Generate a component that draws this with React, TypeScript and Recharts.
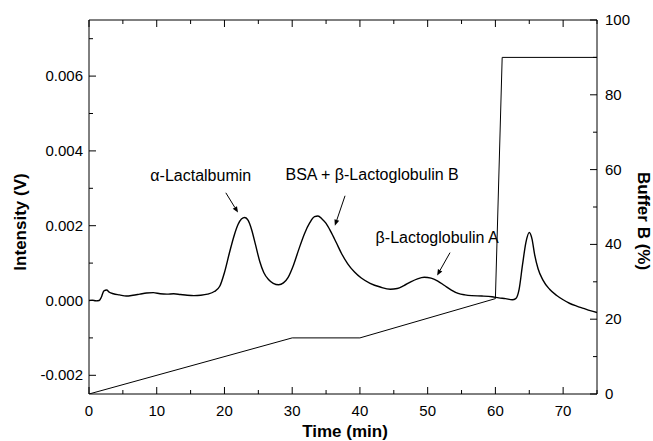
import React from 'react';
import { ComposedChart, Line, XAxis, YAxis, ReferenceDot, ReferenceLine, Label } from 'recharts';

const FONT = '"Liberation Sans", Arial, Helvetica, sans-serif';

// Chromatogram trace (time in min, intensity in V)
const traceTime = [
  0, 0.5, 1.0, 1.5, 1.8, 2.2, 2.6, 3.0, 3.6, 4.5, 5.5, 6.5, 7.5, 8.5, 9.5, 10.5, 11.5, 12.5, 13.5, 14.5,
  15.5, 16.5, 17.5, 18.5, 19.3, 20.0, 20.7, 21.4, 22.0, 22.5, 23.0, 23.5, 24.0, 24.6, 25.2, 25.8, 26.5,
  27.2, 28.0, 28.7, 29.4, 30.2, 31.0, 31.8, 32.6, 33.3, 33.8, 34.4, 35.0, 35.7, 36.5, 37.3, 38.2, 39.2,
  40.2, 41.5, 43.0, 44.5, 45.5, 46.5, 47.5, 48.5, 49.5, 50.5, 51.5, 52.5, 53.5, 54.5, 55.5, 56.5, 58.0,
  59.5, 60.5, 61.5, 62.5, 63.0, 63.5, 64.0, 64.5, 65.0, 65.4, 65.8, 66.3, 67.0, 68.0, 69.0, 70.0, 71.0,
  72.0, 73.0, 74.0, 75.0,
];
const traceIntensity = [
  0.0, 0.00001, -0.00001, 0.0, 0.00008, 0.00026, 0.00028, 0.00022, 0.00018, 0.00015, 0.00012, 0.00014,
  0.00017, 0.0002, 0.00021, 0.00018, 0.00017, 0.00018, 0.00016, 0.00014, 0.00013, 0.00014, 0.00017,
  0.00024, 0.00038, 0.00075, 0.00125, 0.00172, 0.00203, 0.00218, 0.00222, 0.00214, 0.0019, 0.00148,
  0.00105, 0.00075, 0.00056, 0.00046, 0.00042, 0.00047, 0.00062, 0.00095, 0.00138, 0.00178, 0.00208,
  0.00224, 0.00226, 0.00218, 0.00206, 0.00184, 0.00155, 0.00125, 0.00098, 0.00076, 0.0006, 0.00046,
  0.00036, 0.0003, 0.00032, 0.0004, 0.0005, 0.00058, 0.00062, 0.0006, 0.00052, 0.0004, 0.00028, 0.00019,
  0.00015, 0.00013, 0.00012, 0.0001, 0.00007, 0.00005, 0.00002, 0.00005, 0.0003, 0.00095, 0.00155,
  0.00182, 0.00165, 0.00122, 0.00085, 0.00055, 0.0003, 0.00014, 0.00002, -0.00008, -0.00015, -0.00021,
  -0.00027, -0.00032,
];

// Gradient program (time in min, Buffer B in %)
const gradientTime = [0, 30, 40, 60, 61, 75];
const gradientBuffer = [0, 15, 15, 25.5, 90, 90];

// Axis ticks
const timeTicks = [0, 5, 10, 15, 20, 25, 30, 35, 40, 45, 50, 55, 60, 65, 70, 75];
const timeLabels = [0, 10, 20, 30, 40, 50, 60, 70];
const intensityTicks = [-0.002, -0.001, 0, 0.001, 0.002, 0.003, 0.004, 0.005, 0.006, 0.007];
const intensityLabels = [-0.002, 0, 0.002, 0.004, 0.006];
const bufferTicks = [0, 10, 20, 30, 40, 50, 60, 70, 80, 90, 100];
const bufferLabels = [0, 20, 40, 60, 80, 100];

// Annotations
const annotationText = ['α-Lactalbumin', 'BSA + β-Lactoglobulin B', 'β-Lactoglobulin A'];
const annotationTextTime = [16.5, 41.8, 51.4];
const annotationTextValue = [0.00333, 0.00336, 0.00168];
const arrowFromTime = [20.2, 37.8, 53.3];
const arrowFromValue = [0.00288, 0.0028, 0.00128];
const arrowToTime = [22.0, 36.3, 51.4];
const arrowToValue = [0.00235, 0.002, 0.00067];

const trace = traceTime.map((t, i) => ({ t, v: traceIntensity[i] }));
const gradient = gradientTime.map((t, i) => ({ t, b: gradientBuffer[i] }));

const isMajor = (v: number, labels: number[]) => labels.some((l) => Math.abs(l - v) < 1e-9);

const LeftTick = (props: any) => {
  const { x, y, payload } = props;
  const major = isMajor(payload.value, intensityLabels);
  return (
    <g>
      <line x1={x} y1={y} x2={x + (major ? 7 : 4)} y2={y} stroke="#000" strokeWidth={1} />
      {major && (
        <text x={x - 6} y={y} dy={5} textAnchor="end" fontSize={15} fontFamily={FONT} fill="#000">
          {payload.value.toFixed(3)}
        </text>
      )}
    </g>
  );
};

const RightTick = (props: any) => {
  const { x, y, payload } = props;
  const major = isMajor(payload.value, bufferLabels);
  return (
    <g>
      <line x1={x} y1={y} x2={x - (major ? 7 : 4)} y2={y} stroke="#000" strokeWidth={1} />
      {major && (
        <text x={x + 8} y={y} dy={5} textAnchor="start" fontSize={15} fontFamily={FONT} fill="#000">
          {String(payload.value)}
        </text>
      )}
    </g>
  );
};

const BottomTick = (props: any) => {
  const { x, y, payload } = props;
  const major = isMajor(payload.value, timeLabels);
  return (
    <g>
      <line x1={x} y1={y} x2={x} y2={y - (major ? 7 : 4)} stroke="#000" strokeWidth={1} />
      {major && (
        <text x={x} y={y + 22} textAnchor="middle" fontSize={15} fontFamily={FONT} fill="#000">
          {String(payload.value)}
        </text>
      )}
    </g>
  );
};

const TopTick = (props: any) => {
  const { x, y, payload } = props;
  const major = isMajor(payload.value, timeLabels);
  return <line x1={x} y1={y} x2={x} y2={y + (major ? 7 : 4)} stroke="#000" strokeWidth={1} />;
};

const Arrow = (props: any) => {
  const { x1, y1, x2, y2 } = props;
  if ([x1, y1, x2, y2].some((v) => typeof v !== 'number' || isNaN(v))) return null;
  const dx = x2 - x1;
  const dy = y2 - y1;
  const len = Math.sqrt(dx * dx + dy * dy) || 1;
  const ux = dx / len;
  const uy = dy / len;
  const hl = 6;
  const hw = 2.5;
  const bx = x2 - ux * hl;
  const by = y2 - uy * hl;
  const pts = `${x2},${y2} ${bx - uy * hw},${by + ux * hw} ${bx + uy * hw},${by - ux * hw}`;
  return (
    <g>
      <line x1={x1} y1={y1} x2={bx} y2={by} stroke="#000" strokeWidth={1} />
      <polygon points={pts} fill="#000" />
    </g>
  );
};

const makeTextShape = (text: string) => (props: any) => (
  <text
    x={props.cx}
    y={props.cy}
    dy={5}
    textAnchor="middle"
    fontSize={16}
    fontFamily={FONT}
    fill="#000"
  >
    {text}
  </text>
);

export default function App() {
  return (
    <div style={{ position: 'absolute', left: 0, top: 0, background: '#fff' }}>
      <ComposedChart
        width={653}
        height={441}
        margin={{ top: 0, right: 0, bottom: 0, left: 0 }}
        style={{ fontFamily: FONT }}
      >
        <XAxis
          xAxisId="b"
          dataKey="t"
          type="number"
          domain={[0, 75]}
          ticks={timeTicks}
          interval={0}
          tickSize={0}
          tickMargin={0}
          tickLine={false}
          tick={(p: any) => <BottomTick {...p} />}
          axisLine={{ stroke: '#000', strokeWidth: 1 }}
          height={47}
          allowDataOverflow
        >
          <Label
            content={(p: any) => {
              const vb = p.viewBox || {};
              return (
                <text
                  x={vb.x + vb.width / 2 + 2}
                  y={vb.y + 43}
                  textAnchor="middle"
                  fontSize={17}
                  fontWeight="bold"
                  fontFamily={FONT}
                  fill="#000"
                >
                  Time (min)
                </text>
              );
            }}
          />
        </XAxis>
        <XAxis
          xAxisId="top"
          dataKey="t"
          type="number"
          orientation="top"
          domain={[0, 75]}
          ticks={timeTicks}
          interval={0}
          tickSize={0}
          tickMargin={0}
          tickLine={false}
          tick={(p: any) => <TopTick {...p} />}
          axisLine={{ stroke: '#000', strokeWidth: 1 }}
          height={20}
          allowDataOverflow
        />
        <YAxis
          yAxisId="left"
          type="number"
          domain={[-0.0025, 0.0075]}
          ticks={intensityTicks}
          interval={0}
          tickSize={0}
          tickMargin={0}
          tickLine={false}
          tick={(p: any) => <LeftTick {...p} />}
          axisLine={{ stroke: '#000', strokeWidth: 1 }}
          width={89}
          allowDataOverflow
        >
          <Label
            content={(p: any) => {
              const vb = p.viewBox || {};
              const cx = vb.x + 20;
              const cy = 222;
              return (
                <text
                  x={cx}
                  y={cy}
                  transform={`rotate(-90, ${cx}, ${cy})`}
                  textAnchor="middle"
                  dominantBaseline="central"
                  fontSize={17}
                  fontWeight="bold"
                  fontFamily={FONT}
                  fill="#000"
                >
                  Intensity (V)
                </text>
              );
            }}
          />
        </YAxis>
        <YAxis
          yAxisId="right"
          orientation="right"
          type="number"
          domain={[0, 100]}
          ticks={bufferTicks}
          interval={0}
          tickSize={0}
          tickMargin={0}
          tickLine={false}
          tick={(p: any) => <RightTick {...p} />}
          axisLine={{ stroke: '#000', strokeWidth: 1 }}
          width={56}
          allowDataOverflow
        >
          <Label
            content={(p: any) => {
              const vb = p.viewBox || {};
              const cx = vb.x + 46;
              const cy = 221;
              return (
                <text
                  x={cx}
                  y={cy}
                  transform={`rotate(90, ${cx}, ${cy})`}
                  textAnchor="middle"
                  dominantBaseline="central"
                  fontSize={17}
                  fontWeight="bold"
                  fontFamily={FONT}
                  fill="#000"
                >
                  Buffer B (%)
                </text>
              );
            }}
          />
        </YAxis>

        <Line
          data={gradient}
          xAxisId="top"
          yAxisId="right"
          dataKey="b"
          type="linear"
          stroke="#000"
          strokeWidth={1}
          dot={false}
          activeDot={false}
          isAnimationActive={false}
        />
        <Line
          data={trace}
          xAxisId="b"
          yAxisId="left"
          dataKey="v"
          type="monotone"
          stroke="#000"
          strokeWidth={1.4}
          dot={false}
          activeDot={false}
          isAnimationActive={false}
        />

        {annotationText.map((txt, i) => (
          <ReferenceDot
            key={`t${i}`}
            xAxisId="b"
            yAxisId="left"
            x={annotationTextTime[i]}
            y={annotationTextValue[i]}
            r={0}
            shape={makeTextShape(txt)}
          />
        ))}
        {annotationText.map((_, i) => (
          <ReferenceLine
            key={`a${i}`}
            xAxisId="b"
            yAxisId="left"
            segment={[
              { x: arrowFromTime[i], y: arrowFromValue[i] },
              { x: arrowToTime[i], y: arrowToValue[i] },
            ]}
            shape={(p: any) => <Arrow {...p} />}
          />
        ))}
      </ComposedChart>
    </div>
  );
}
